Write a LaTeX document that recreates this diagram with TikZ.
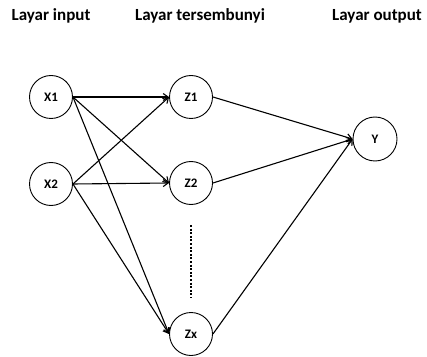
\documentclass[tikz,border=0pt]{standalone}
\usepackage{fontspec}
\setmainfont{Carlito}
\usetikzlibrary{arrows.meta}
\begin{document}
\begin{tikzpicture}[x=1pt,y=1pt,
  neuron/.style={circle,draw,line width=0.9pt,minimum size=43pt,inner sep=0pt,font=\bfseries\fontsize{13}{15}\selectfont},
  layer/.style={font=\bfseries\fontsize{17}{20}\selectfont,anchor=center},
  link/.style={line width=1.1pt,-{Straight Barb[length=5pt,width=7pt]}}]
\useasboundingbox (0,0) rectangle (427,356);
% layer captions
\node[layer] (Lin) at (51,340) {Layar input};
\node[layer] (Lhid) at (200,340) {Layar tersembunyi};
\node[layer] (Lout) at (377,340) {Layar output};
% neurons
\node[neuron] (X1) at (51,259) {X1};
\node[neuron] (X2) at (51,172) {X2};
\node[neuron] (Z1) at (191,259) {Z1};
\node[neuron] (Z2) at (191,173) {Z2};
\node[neuron] (Zx) at (191,22) {Zx};
\node[neuron,minimum size=44pt] (Y) at (375,217) {Y};
% ellipsis between hidden neurons
\coordinate (d1) at (191,131);
\coordinate (d2) at (191,58);
\draw[line width=1.6pt,dash pattern=on 2pt off 1.6pt] (d1) -- (d2);
% input to hidden connections
\foreach \s in {X1,X2}
  \foreach \t in {Z1,Z2,Zx}
    \draw[link] (\s.east) -- (\t.west);
% hidden to output connections
\foreach \s in {Z1,Z2,Zx}
  \draw[link] (\s.east) -- (Y.west);
\end{tikzpicture}
\end{document}
